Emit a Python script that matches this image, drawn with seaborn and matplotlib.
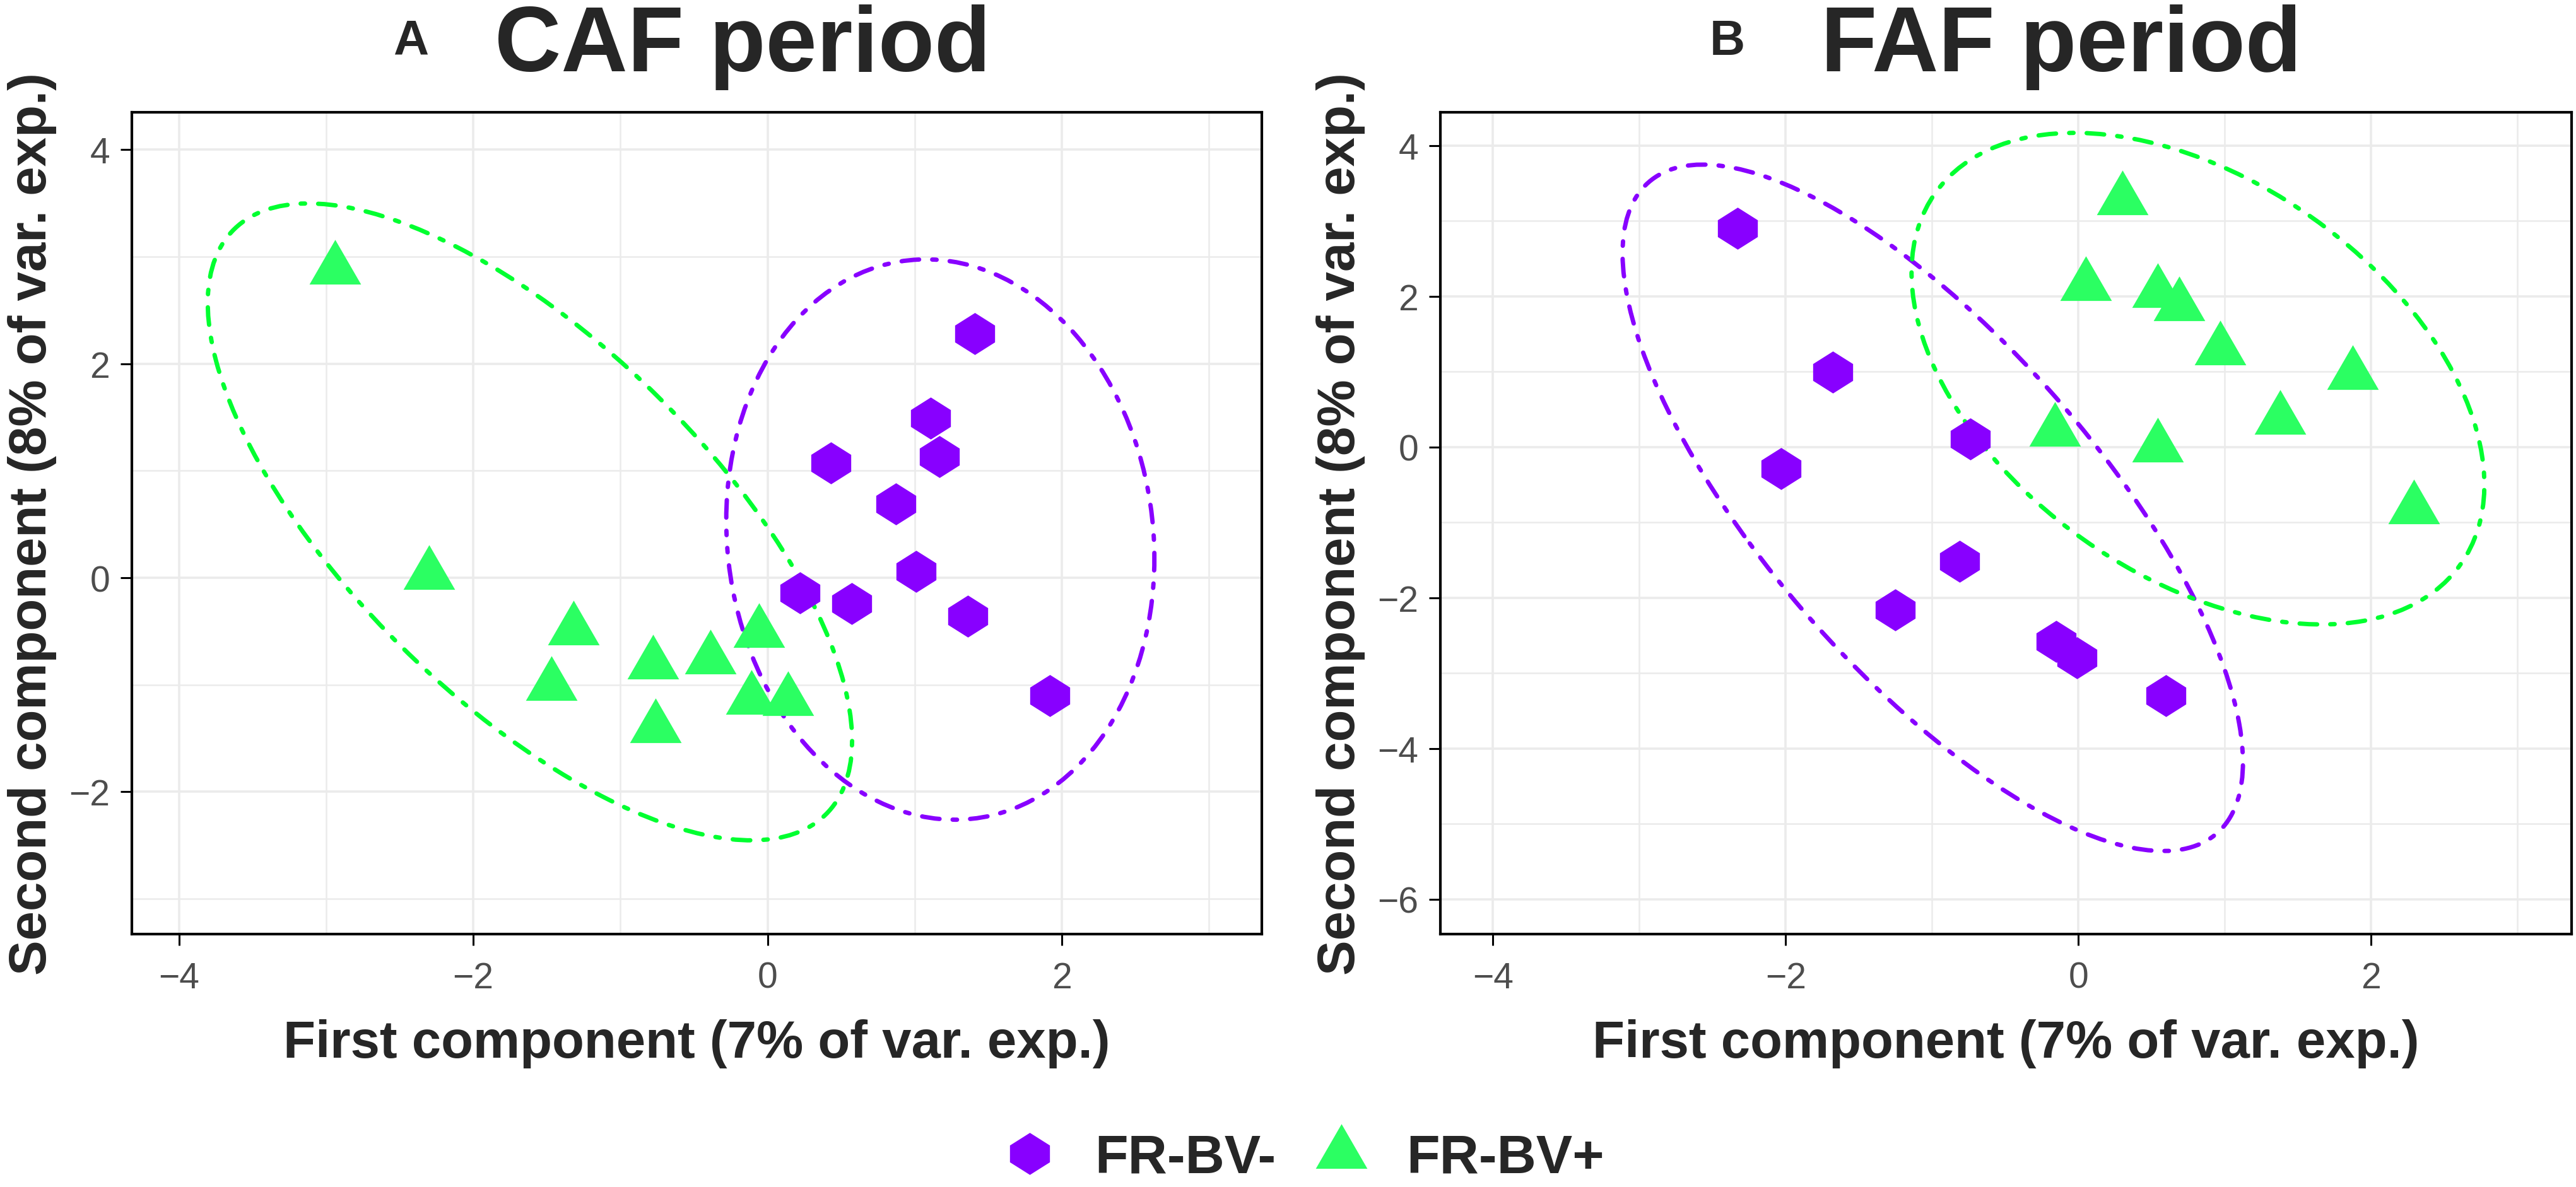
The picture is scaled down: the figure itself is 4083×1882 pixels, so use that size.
import pandas as pd
import seaborn as sns
import matplotlib.pyplot as plt
from matplotlib.path import Path
from matplotlib.lines import Line2D
from matplotlib.patches import Ellipse
from matplotlib.ticker import MultipleLocator

# scores
caf_neg_x = [1.41, 1.11, 1.17, 0.43, 0.87, 1.01, 0.22, 0.57, 1.36, 1.92]
caf_neg_y = [2.28, 1.49, 1.13, 1.07, 0.69, 0.06, -0.14, -0.24, -0.36, -1.10]
caf_pos_x = [-2.94, -2.30, -1.32, -1.47, -0.78, -0.76, -0.39, -0.06, -0.11, 0.14]
caf_pos_y = [2.88, 0.03, -0.49, -1.01, -0.81, -1.40, -0.76, -0.51, -1.14, -1.15]

faf_neg_x = [-2.33, -1.68, -0.74, -2.03, -0.81, -1.25, -0.15, -0.01, 0.60]
faf_neg_y = [2.90, 0.99, 0.11, -0.29, -1.52, -2.16, -2.58, -2.80, -3.30]
faf_pos_x = [0.30, 0.05, 0.54, 0.69, 0.97, 1.875, 1.38, -0.16, 0.54, 2.29]
faf_pos_y = [3.28, 2.14, 2.05, 1.87, 1.29, 0.96, 0.37, 0.21, 0.00, -0.82]

# 95% ellipses as drawn: centre x, centre y, major axis, minor axis, angle (deg)
caf_neg_ell = [1.174, 0.357, 5.242, 2.900, -86.9]
caf_pos_ell = [-1.615, 0.522, 6.854, 2.762, -57.2]
faf_neg_ell = [-0.995, -0.806, 9.681, 2.674, -69.3]
faf_pos_ell = [0.817, 0.907, 6.813, 3.379, -70.5]

groups = ["FR-BV-", "FR-BV+"]
panel_titles = ["CAF period", "FAF period"]
panel_tags = ["A", "B"]

palette = {"FR-BV-": "#8800FF", "FR-BV+": "#2BFF62"}
line_colors = {"FR-BV-": "#8800FF", "FR-BV+": "#00FF30"}

diamond = Path([(0, 1), (0.95, 0.4), (0.95, -0.4), (0, -1), (-0.95, -0.4),
                (-0.95, 0.4), (0, 1)], closed=True)
triangle = Path([(0, 1), (-0.866, -0.5), (0.866, -0.5), (0, 1)], closed=True)
markers = {"FR-BV-": diamond, "FR-BV+": triangle}
sizes = {"FR-BV-": 48, "FR-BV+": 68}


def make_df(nx, ny, px, py):
    return pd.DataFrame({
        "PC1": nx + px,
        "PC2": ny + py,
        "group": [groups[0]] * len(nx) + [groups[1]] * len(px),
    })


sns.set_theme(style="white")
plt.rcParams["font.family"] = ["Liberation Sans", "DejaVu Sans"]

fig = plt.figure(figsize=(40.83, 18.83), dpi=100)
ax_a = fig.add_axes([0.0512, 0.2130, 0.4387, 0.6919])
ax_b = fig.add_axes([0.5591, 0.2130, 0.4392, 0.6919])

data = [make_df(caf_neg_x, caf_neg_y, caf_pos_x, caf_pos_y),
        make_df(faf_neg_x, faf_neg_y, faf_pos_x, faf_pos_y)]
ells = [dict(zip(groups, [caf_neg_ell, caf_pos_ell])),
        dict(zip(groups, [faf_neg_ell, faf_pos_ell]))]
limits = [((-4.32, 3.36), (-3.33, 4.35)), ((-4.36, 3.37), (-6.46, 4.44))]

for ax, df, ell, (xl, yl) in zip([ax_a, ax_b], data, ells, limits):
    for g in groups:
        sub = df[df["group"] == g]
        cx, cy, w, h, ang = ell[g]
        ax.add_patch(Ellipse((cx, cy), w, h, angle=ang, fill=False,
                             edgecolor=line_colors[g], lw=5,
                             ls=(0, (1, 3, 4, 3)), capstyle="round", zorder=2))
        sns.scatterplot(data=sub, x="PC1", y="PC2", color=palette[g],
                        marker=markers[g], s=sizes[g] ** 2, linewidth=0,
                        ax=ax, legend=False, zorder=3)
    ax.set_xlim(*xl)
    ax.set_ylim(*yl)
    ax.xaxis.set_major_locator(MultipleLocator(2))
    ax.xaxis.set_minor_locator(MultipleLocator(1))
    ax.yaxis.set_major_locator(MultipleLocator(2))
    ax.yaxis.set_minor_locator(MultipleLocator(1))
    ax.grid(which="major", color="#EBEBEB", lw=2.6)
    ax.grid(which="minor", color="#EBEBEB", lw=1.8)
    ax.set_axisbelow(True)
    for sp in ax.spines.values():
        sp.set_color("black")
        sp.set_linewidth(3)
    ax.tick_params(which="major", length=13, width=2.2, color="black",
                   labelsize=41, labelcolor="#4D4D4D", bottom=True, left=True)
    ax.tick_params(axis="x", which="major", pad=18)
    ax.tick_params(axis="y", which="major", pad=12)
    ax.tick_params(which="minor", length=0)
    ax.set_xlabel("First component (7% of var. exp.)", fontsize=60,
                  fontweight="bold", ha="center", va="center")
    ax.set_ylabel("Second component (8% of var. exp.)", fontsize=60,
                  fontweight="bold", ha="center", va="center")
    ax.xaxis.set_label_coords(0.5, -0.133)
    ax.yaxis.set_label_coords(-0.088, 0.5)

fig.text(0.1526, 0.9538, panel_tags[0], fontsize=56, fontweight="bold", va="baseline")
fig.text(0.1920, 0.9400, panel_titles[0], fontsize=105, fontweight="bold", va="baseline")
fig.text(0.6637, 0.9538, panel_tags[1], fontsize=56, fontweight="bold", va="baseline")
fig.text(0.7069, 0.9400, panel_titles[1], fontsize=105, fontweight="bold", va="baseline")

handles = [Line2D([], [], ls="none", marker=markers[g], markersize=sizes[g],
                  markerfacecolor=palette[g], markeredgewidth=0) for g in groups]
fig.legend(handles, groups, loc="center", bbox_to_anchor=(0.506, 0.024), ncol=2,
           frameon=False, prop={"size": 62, "weight": "bold"},
           handlelength=1.0, handletextpad=0.7, columnspacing=0.7)

fig.savefig("out.png", dpi=100)
